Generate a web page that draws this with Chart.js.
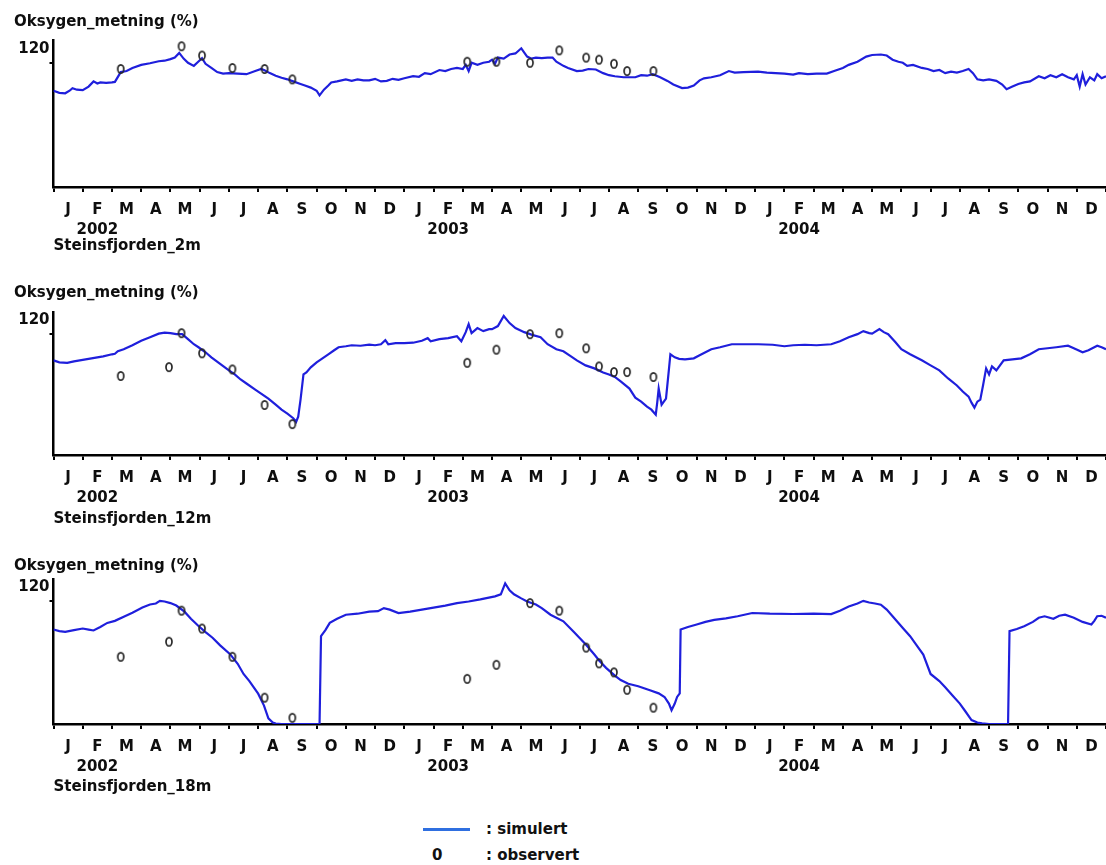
<!DOCTYPE html>
<html><head><meta charset="utf-8">
<script src="https://cdn.jsdelivr.net/npm/chart.js@4.4.1/dist/chart.umd.min.js"></script>
<style>
body{margin:0;background:#fff;width:1106px;height:865px;overflow:hidden;position:relative;}
canvas{position:absolute;left:0;}
.lg{position:absolute;font:bold 15px 'DejaVu Sans',sans-serif;color:#111;line-height:18px;white-space:nowrap;}
#lgline{position:absolute;left:423px;top:828px;width:47px;height:3px;background:#2f6fe0;}
</style></head><body>
<canvas id="c0" width="1112" height="270" style="top:0px"></canvas>
<canvas id="c1" width="1112" height="270" style="top:270px"></canvas>
<canvas id="c2" width="1112" height="270" style="top:540px"></canvas>
<div id="lgline"></div>
<div class="lg" id="lgSim" style="left:486px;top:820px"></div>
<div class="lg" id="lgObsMark" style="left:432px;top:846px"></div>
<div class="lg" id="lgObs" style="left:486px;top:846px"></div>
<script>
// ---------- data ----------
const monthLetters = ['J','F','M','A','M','J','J','A','S','O','N','D',
                      'J','F','M','A','M','J','J','A','S','O','N','D',
                      'J','F','M','A','M','J','J','A','S','O','N','D'];
const yearLabels = ['2002','2003','2004'];
const yearTickMonths = [1,13,25];
const yTickValues = [120];
const yAxisTitle = 'Oksygen_metning (%)';
const stationNames = ['Steinsfjorden_2m','Steinsfjorden_12m','Steinsfjorden_18m'];
const legendLabels = [': simulert', ': observert'];
const legendObsSymbol = '0';

// simulated series: [month since Jan 2002, value %]
const sim2m = [[0,93],[0.2,91],[0.4,90.5],[0.55,93],[0.65,95.5],[0.8,94],[1.0,93.5],[1.2,97],[1.37,102],[1.5,100],
[1.6,101],[1.8,100.5],[2.0,101],[2.1,101.5],[2.3,111],[2.5,112],[2.7,115],[3.0,118],[3.3,119.5],[3.6,121.5],
[3.8,122],[4.0,123.5],[4.15,125],[4.3,129.5],[4.45,124],[4.6,120],[4.8,117],[4.95,121],[5.08,124.5],[5.2,119],
[5.4,115],[5.6,111],[5.8,109.5],[6.0,110],[6.3,109.5],[6.6,109],[6.9,112],[7.1,114],[7.2,113],[7.4,110],
[7.6,107.5],[7.8,105.5],[8.0,104],[8.2,102],[8.4,100],[8.6,98],[8.8,96],[9.0,93],[9.1,88.5],[9.25,94],
[9.4,98],[9.5,101],[9.7,102],[10.0,104],[10.2,102.5],[10.4,104],[10.6,103],[10.8,103],[11.0,104.5],[11.2,102],
[11.4,102.5],[11.6,104.5],[11.8,103.5],[12.0,105],[12.3,107],[12.5,106.5],[12.7,110],[12.9,109],[13.2,113],[13.4,112],
[13.6,114],[13.8,115],[14.0,114],[14.1,118],[14.2,112],[14.3,120],[14.5,118],[14.7,120],[14.9,121],[15.0,123],
[15.1,119],[15.2,125],[15.4,124],[15.6,128],[15.8,129],[16.0,134],[16.2,126],[16.35,124],[16.5,125],[16.7,124.5],
[16.9,125],[17.07,125],[17.2,121],[17.44,117],[17.6,115],[17.9,112],[18.1,112.5],[18.3,114],[18.55,113.5],[18.8,110],
[19.0,108],[19.2,107],[19.5,106],[19.9,106],[20.1,108],[20.3,107.5],[20.5,109],[20.75,106],[21.0,102.5],[21.2,99],
[21.5,95.5],[21.7,96],[21.9,98],[22.1,103],[22.25,105],[22.5,106],[22.8,108],[23.1,112],[23.3,110.5],[23.6,111],
[24.1,111.5],[24.4,110.5],[24.7,110],[25.0,109.5],[25.3,108.5],[25.5,110],[25.8,109],[26.1,109.5],[26.45,109.5],[26.7,112],
[27.0,115],[27.2,118],[27.5,121],[27.8,126],[28.0,127.5],[28.3,128],[28.5,127],[28.7,123],[28.9,121],[29.05,120],
[29.2,117],[29.4,118],[29.7,115],[29.9,114],[30.1,112],[30.3,113],[30.5,110],[30.7,111.5],[30.9,110.5],[31.1,112],
[31.3,114],[31.45,110],[31.6,104],[31.8,103],[32.0,104],[32.25,102.5],[32.45,99],[32.6,94.5],[32.8,97],[33.0,99.5],
[33.2,101],[33.4,102],[33.7,107],[33.9,105],[34.1,108],[34.3,106],[34.5,109],[34.7,106],[34.9,104],[35.0,108],
[35.1,97],[35.2,109],[35.3,99],[35.45,106],[35.6,103],[35.7,109],[35.85,105],[36.0,107]];

const sim12m = [[0,94],[0.2,92],[0.47,91.5],[0.7,93],[0.9,94],[1.1,95],[1.4,96.5],[1.7,98],[2.0,100],[2.1,100.5],
[2.2,103],[2.4,105],[2.7,109],[3.0,113.5],[3.3,117],[3.6,120.5],[3.8,121.5],[4.0,121],[4.2,120],[4.4,120],
[4.6,115],[4.8,110],[4.96,107],[5.2,102],[5.4,97],[5.7,90.5],[6.0,84],[6.2,80],[6.4,75],[6.6,71],
[6.9,65],[7.1,61],[7.35,56],[7.6,50],[7.8,45],[8.0,41],[8.2,36.5],[8.3,33],[8.37,38],[8.45,55],
[8.55,80],[8.65,82],[8.8,87],[9.0,92],[9.2,96],[9.4,100],[9.6,104],[9.75,107],[10.0,108],[10.2,109],
[10.5,108.5],[10.8,109.5],[11.0,109],[11.2,110],[11.35,114],[11.45,110],[11.7,111],[12.0,111],[12.3,111.5],[12.6,113.5],
[12.8,116],[12.9,113],[13.2,115],[13.5,116],[13.8,118],[13.95,113],[14.1,122],[14.2,130],[14.3,121],[14.5,126],
[14.7,123],[14.9,125],[15.0,125],[15.2,128],[15.4,138],[15.6,131],[15.8,126],[16.1,122],[16.4,119],[16.66,117],
[16.9,110],[17.2,105],[17.44,103],[17.7,98],[17.9,94],[18.2,89],[18.5,86],[18.8,82],[19.0,80],[19.2,77.5],
[19.4,73],[19.7,66],[19.9,57],[20.1,53],[20.3,48],[20.45,45],[20.6,40],[20.65,52],[20.7,66],[20.8,50],
[20.95,56],[21.05,85],[21.1,100],[21.25,97],[21.4,95.5],[21.6,95],[21.9,96],[22.1,99],[22.3,102],[22.5,105],
[22.8,107],[23.2,110],[23.6,110],[24.1,110],[24.6,109.5],[25.0,108],[25.3,109],[25.7,109.5],[26.1,109],[26.6,110],
[26.9,113],[27.2,117],[27.5,120],[27.7,123],[27.9,121],[28.0,120.5],[28.25,125],[28.4,122],[28.55,120],[28.8,112],
[29.0,105],[29.3,100],[29.7,94],[30.0,89],[30.3,84],[30.6,76],[30.9,69],[31.1,63],[31.3,58],[31.4,52],
[31.5,47],[31.6,53],[31.7,55],[31.8,70],[31.9,86],[32.0,80],[32.1,88],[32.25,84],[32.5,94],[32.8,95],
[33.1,96],[33.4,100],[33.7,105],[34.0,106],[34.3,107],[34.7,108.5],[34.9,106],[35.2,102],[35.4,104],[35.7,108.5],
[35.85,107],[36.0,105]];

const sim18m = [[0,92.5],[0.2,91],[0.4,90.3],[0.7,92],[1.0,93.5],[1.2,92.5],[1.37,91.6],[1.6,95],[1.84,99],[2.1,101],
[2.44,105.5],[2.7,109],[3.04,114],[3.3,117],[3.5,118],[3.64,120.6],[3.8,120],[4.0,118.4],[4.2,116],[4.48,110],
[4.7,103],[4.96,96],[5.2,90],[5.44,84.5],[5.7,77],[6.04,68.4],[6.3,59],[6.5,49],[6.7,42],[7.0,29.7],
[7.2,18],[7.35,5.5],[7.5,1.5],[7.6,0.5],[7.8,0],[8.5,0],[9.1,0],[9.15,86],[9.3,92],[9.45,99],
[9.7,103],[10.0,107],[10.4,108],[10.8,110],[11.1,110.5],[11.3,113.5],[11.5,112],[11.8,108.7],[12.2,110],[12.6,112],
[13.0,114],[13.4,116],[13.8,118.4],[14.2,120],[14.6,122],[15.1,125],[15.3,127],[15.45,137.7],[15.6,131],[15.75,127],
[16.0,123],[16.2,120],[16.5,117],[16.7,113.5],[17.0,107],[17.44,100.6],[17.8,90],[18.2,78],[18.5,68],[18.67,62],
[18.9,55],[19.2,47.4],[19.4,43],[19.66,39.4],[20.0,37],[20.4,33],[20.7,30],[20.9,26.5],[21.05,20],[21.14,13.5],
[21.25,20],[21.33,26.5],[21.42,30],[21.45,92.6],[21.7,95],[22.0,97.4],[22.3,100],[22.6,102],[23.0,103.5],[23.4,105.5],
[23.9,108.7],[24.5,108],[25.3,107.7],[26.0,108],[26.6,107.7],[26.9,111],[27.2,115],[27.5,118],[27.7,120.6],[27.9,119],
[28.1,118],[28.3,116.8],[28.5,112],[28.7,105.5],[29.05,94],[29.3,86],[29.5,78],[29.75,68],[30.0,49],[30.3,42],
[30.5,36],[30.75,28],[31.0,20],[31.2,12],[31.4,3.9],[31.6,1.5],[31.76,0.6],[32.0,0],[32.4,0],[32.65,0],
[32.7,91],[32.95,93],[33.2,95.8],[33.5,100],[33.7,104],[33.9,105.5],[34.2,103],[34.4,106],[34.6,107],[34.9,104],
[35.2,100],[35.5,97.4],[35.6,101],[35.7,105.5],[35.85,106],[36.0,104]];

// observations (same sampling dates in every depth)
const obsMonths = [2.3,3.95,4.38,5.08,6.12,7.22,8.17,14.15,15.15,16.3,17.3,18.22,18.66,19.17,19.62,20.52];
const obs2m  = [114,null,136,127,115,114,104,121,121,120,132,125,123,119,112,112];
const obs12m = [78.5,87.3,121,101,85,49.7,30.7,91.6,104.6,120,121,106,88,82.4,82.4,77.5];
const obs18m = [65.8,80.6,111,93.5,65.8,25.8,6.1,44.2,58,118.4,111,74.8,59.4,50.6,33.5,16];

// ---------- drawing ----------
const FONT = "'DejaVu Sans', sans-serif";
const INK = '#0e0e0e';
const LINE_BLUE = '#1f1fdc';

function makeObsSymbol(){
  const c = document.createElement('canvas');
  c.width = 10; c.height = 12;
  const g = c.getContext('2d');
  g.strokeStyle = '#262626';
  g.lineWidth = 1.7;
  g.beginPath();
  g.ellipse(5, 6, 3, 4.2, 0, 0, Math.PI*2);
  g.stroke();
  return c;
}
const obsSymbol = makeObsSymbol();

// per-panel frame: title padding and x-axis box height (canvas is 270 tall)
const panelFrames = [
  {titleTop:13, titleBottom:9,  xAxisHeight:83, stationPad:15},
  {titleTop:14, titleBottom:10, xAxisHeight:85, stationPad:12},
  {titleTop:17, titleBottom:4,  xAxisHeight:86, stationPad:14}
];

function buildPanel(canvasId, simSeries, obsValues, station, frame){
  const simData = simSeries.map(p => ({x:p[0], y:p[1]}));
  const obsData = obsMonths.map((m,i) => ({x:m, y:obsValues[i]})).filter(p => p.y !== null);
  new Chart(document.getElementById(canvasId), {
    data:{
      datasets:[
        {type:'scatter', data:obsData, pointStyle:obsSymbol, pointRadius:5, order:0},
        {type:'line', data:simData, borderColor:LINE_BLUE, borderWidth:2.2, pointRadius:0, tension:0, fill:false, order:1}
      ]
    },
    options:{
      responsive:false, animation:false, devicePixelRatio:1,
      layout:{padding:{left:14, right:0, top:0, bottom:0}},
      plugins:{
        legend:{display:false}, tooltip:{enabled:false},
        title:{display:true, text:yAxisTitle, align:'start', color:INK,
               font:{family:FONT, size:15, weight:'bold', lineHeight:1.2},
               padding:{top:frame.titleTop, bottom:frame.titleBottom}}
      },
      scales:{
        x:{
          type:'linear', position:'bottom', min:0, max:36,
          afterBuildTicks:(s)=>{ s.ticks = monthLetters.map((_,i)=>({value:i})).concat([{value:monthLetters.length}]); },
          afterFit:(s)=>{ s.height = frame.xAxisHeight; s.paddingLeft = 0; s.paddingRight = 1; },
          ticks:{
            autoSkip:false, maxRotation:0, minRotation:0, padding:8, color:INK,
            labelOffset:14.6,
            font:{family:FONT, size:15, weight:'bold', lineHeight:1.33},
            callback:(v)=>{
              const i = Math.round(v);
              if (i >= monthLetters.length) return '';
              const yi = yearTickMonths.indexOf(i);
              return yi >= 0 ? [monthLetters[i], yearLabels[yi]] : monthLetters[i];
            }
          },
          grid:{display:true, drawOnChartArea:false, drawTicks:true, tickLength:5, color:'#000', lineWidth:2},
          border:{display:true, color:'#000', width:2.5},
          title:{display:true, text:station, align:'start', color:INK,
                 font:{family:FONT, size:15, weight:'bold', lineHeight:1.2},
                 padding:{top:0, bottom:frame.stationPad}}
        },
        y:{
          type:'linear', position:'left', min:0, max:142,
          afterBuildTicks:(s)=>{ s.ticks = yTickValues.map(v=>({value:v})); },
          afterFit:(s)=>{ s.width = 39.5; },
          ticks:{padding:0, color:INK, labelOffset:-14,
                 font:{family:FONT, size:15, weight:'bold'},
                 callback:(v)=>String(v)},
          grid:{display:true, drawOnChartArea:false, drawTicks:true, tickLength:4, color:'#000', lineWidth:2},
          border:{display:true, color:'#000', width:2.5}
        }
      }
    }
  });
}

buildPanel('c0', sim2m, obs2m, stationNames[0], panelFrames[0]);
buildPanel('c1', sim12m, obs12m, stationNames[1], panelFrames[1]);
buildPanel('c2', sim18m, obs18m, stationNames[2], panelFrames[2]);

document.getElementById('lgSim').textContent = legendLabels[0];
document.getElementById('lgObs').textContent = legendLabels[1];
document.getElementById('lgObsMark').textContent = legendObsSymbol;
</script>
</body></html>
